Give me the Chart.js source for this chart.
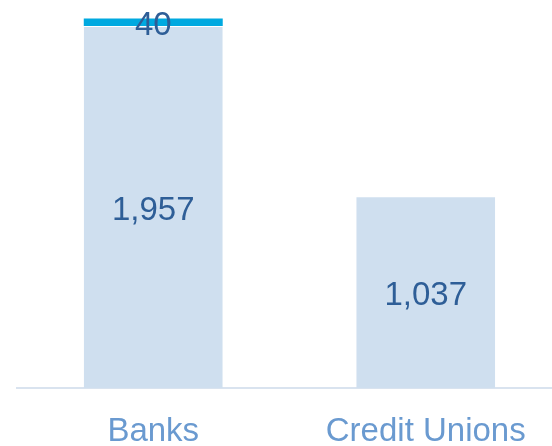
<!DOCTYPE html>
<html>
<head>
<meta charset="utf-8">
<script src="https://cdn.jsdelivr.net/npm/chart.js@4/dist/chart.umd.min.js"></script>
<style>
  html, body { margin: 0; padding: 0; background: #fff; overflow: hidden; }
  #wrap { position: relative; width: 562px; height: 446px; }
</style>
</head>
<body>
<div id="wrap"><canvas id="grafico"></canvas></div>
<script>
// Datos del gráfico
const categorias = ['Banks', 'Credit Unions'];
const valoresBase = [1957, 1037];
const valoresExtra = [40, 0];

// Plugin sencillo para escribir los valores dentro de cada segmento
const etiquetasValores = {
  id: 'etiquetasValores',
  afterDatasetsDraw(chart) {
    const ctx = chart.ctx;
    ctx.save();
    ctx.font = '33px "Liberation Sans", Arial, sans-serif';
    ctx.fillStyle = '#2E5E97';
    ctx.textAlign = 'center';
    ctx.textBaseline = 'middle';
    chart.data.datasets.forEach((ds, i) => {
      const meta = chart.getDatasetMeta(i);
      meta.data.forEach((barra, j) => {
        const v = ds.data[j];
        if (!v) return;
        const y = (barra.y + barra.base) / 2 + 4; // un poco más abajo, como el original
        ctx.fillText(v.toLocaleString('en-US'), barra.x, y);
      });
    });
    ctx.restore();
  }
};

const ctx = document.getElementById('grafico').getContext('2d');
new Chart(ctx, {
  type: 'bar',
  data: {
    labels: categorias,
    datasets: [
      {
        data: valoresBase,
        backgroundColor: '#CFDFEF',
        borderColor: '#FFFFFF',
        borderWidth: { top: 1, left: 0, right: 0, bottom: 0 },
        borderSkipped: false
      },
      {
        data: valoresExtra,
        backgroundColor: '#00A9E0'
      }
    ]
  },
  options: {
    responsive: true,
    maintainAspectRatio: false,
    animation: false,
    layout: { padding: { top: 18, left: 17, right: 0, bottom: 0 } },
    plugins: {
      legend: { display: false },
      tooltip: { enabled: false }
    },
    datasets: {
      bar: { barPercentage: 1, categoryPercentage: 0.51 }
    },
    scales: {
      x: {
        stacked: true,
        grid: { display: false, drawTicks: false },
        border: { display: true, color: '#D9E3EF', width: 2 },
        ticks: {
          padding: 24,
          color: '#6A9AD0',
          font: { family: '"Liberation Sans", Arial, sans-serif', size: 33 }
        },
        afterFit(scale) { scale.height = 58; }
      },
      y: {
        stacked: true,
        display: false,
        min: 0,
        max: 2000
      }
    }
  },
  plugins: [etiquetasValores]
});
</script>
</body>
</html>
